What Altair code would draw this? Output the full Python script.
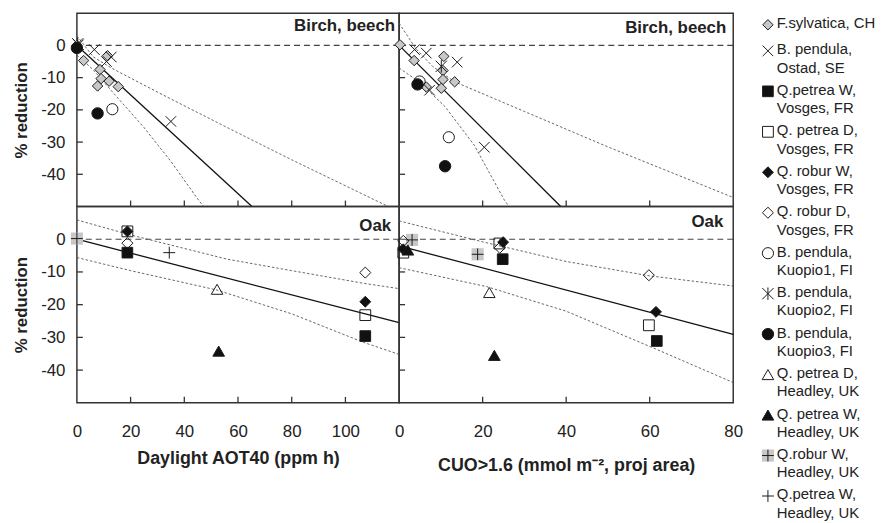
import altair as alt
import pandas as pd

FONT = "Liberation Sans"

# ---------------- series (legend) ----------------
series_keys = ["fsyl", "bp_ostad", "qpW_vos", "qpD_vos", "qrW_vos", "qrD_vos",
               "bp_k1", "bp_k2", "bp_k3", "qpD_hea", "qpW_hea", "qrW_hea", "qpW2_hea"]
series_labels = ["F.sylvatica, CH", "B. pendula,\nOstad, SE", "Q.petrea W,\nVosges, FR",
                 "Q. petrea D,\nVosges, FR", "Q. robur W,\nVosges, FR", "Q. robur D,\nVosges, FR",
                 "B. pendula,\nKuopio1, FI", "B. pendula,\nKuopio2, FI", "B. pendula,\nKuopio3, FI",
                 "Q. petrea D,\nHeadley, UK", "Q. petrea W,\nHeadley, UK", "Q.robur W,\nHeadley, UK",
                 "Q.petrea W,\nHeadley, UK"]
legend_order = list(range(len(series_keys)))

X_PATH = "M-1,-1L1,1M-1,1L1,-1"
AST_PATH = "M-1,-1L1,1M-1,1L1,-1M0,-1.1L0,1.1"
PLUS_PATH = "M-1,0L1,0M0,-1L0,1"
series_shapes = ["diamond", X_PATH, "square", "square", "diamond", "diamond",
                 "circle", AST_PATH, "circle", "triangle-up", "triangle-up", PLUS_PATH, PLUS_PATH]
series_fills = ["#c8c8c8", "transparent", "#111111", "transparent", "#111111", "transparent",
                "transparent", "transparent", "#111111", "transparent", "#111111", "transparent", "transparent"]
series_sizes = [110, 144, 100, 100, 110, 110, 115, 120, 115, 115, 115, 110, 110]
legend_sizes = [75, 100, 90, 80, 75, 75, 80, 95, 95, 100, 100, 100, 100]

# ---------------- Birch/beech vs AOT40 ----------------
bb_aot_series = ["fsyl"] * 8 + ["bp_ostad"] * 5 + ["bp_k2"] + ["bp_k1"] + ["bp_k3"] * 2
bb_aot_x = [0, 2.5, 8.6, 9.0, 7.7, 12.0, 15.4, 11.4,
            0.6, 6.5, 12.8, 11.0, 35.0,
            0.3,
            13.2,
            0.0, 7.7]
bb_aot_y = [0, -4.7, -7.5, -10.3, -12.6, -11.1, -12.8, -3.2,
            0.2, -1.3, -3.6, -5.0, -23.6,
            0.5,
            -19.8,
            -0.8, -21.1]
bb_aot_fit_x = [0, 65.2]
bb_aot_fit_y = [0, -50]
bb_aot_up_x = [0, 6, 13, 30, 56, 80, 111, 116]
bb_aot_up_y = [3, -3.5, -7.1, -14.5, -25.5, -35.5, -48, -50]
bb_aot_lo_x = [0, 6, 13, 25, 35, 45.3, 47.2]
bb_aot_lo_y = [-3, -7.5, -14.2, -25.5, -36, -48, -50]

# ---------------- Birch/beech vs CUO ----------------
bb_cuo_series = ["fsyl"] * 8 + ["bp_ostad"] * 5 + ["bp_k2"] + ["bp_k1"] * 2 + ["bp_k3"] * 2
bb_cuo_x = [0.2, 3.6, 10.7, 10.5, 10.5, 13.3, 6.5, 10.1,
            3.7, 6.5, 13.9, 7.3, 20.4,
            10.1,
            4.9, 11.9,
            4.4, 11.0]
bb_cuo_y = [0.2, -4.7, -3.4, -7.8, -10.6, -11.3, -12.9, -13.3,
            -1.3, -2.4, -5.2, -13.9, -31.6,
            -6.5,
            -11.2, -28.5,
            -12.1, -37.5]
bb_cuo_fit_x = [0, 38.7]
bb_cuo_fit_y = [0, -50]
bb_cuo_up_x = [0, 4, 8, 13.3, 30, 50, 80]
bb_cuo_up_y = [6.9, -1, -6.5, -11.3, -20.5, -31.5, -47.2]
bb_cuo_lo_x = [0, 5, 11, 18, 25.2, 26.3]
bb_cuo_lo_y = [-7, -11.5, -19, -31, -48, -50]

# ---------------- Oak vs AOT40 ----------------
oak_aot_series = ["qrW_hea", "qpD_vos", "qpD_vos", "qrW_vos", "qrW_vos", "qrD_vos", "qrD_vos",
                  "qpW_vos", "qpW_vos", "qpW2_hea", "qpD_hea", "qpW_hea"]
oak_aot_x = [0, 18.8, 107.4, 18.8, 107.4, 18.8, 107.4, 18.8, 107.4, 34.4, 52.2, 52.8]
oak_aot_y = [0.2, 2.4, -23.2, 2.4, -19.1, -1.2, -10.2, -4.1, -29.6, -4.1, -15.3, -34.2]
oak_aot_fit_x = [0, 120]
oak_aot_fit_y = [0, -25.5]
oak_aot_up_x = [0, 20, 56, 80, 107, 120]
oak_aot_up_y = [5.9, 1.3, -6.1, -9.6, -13.5, -15.1]
oak_aot_lo_x = [0, 20, 52, 80, 107, 120]
oak_aot_lo_y = [-5.6, -9.6, -15.5, -22.8, -31.6, -35.2]

# ---------------- Oak vs CUO ----------------
oak_cuo_series = ["qrD_vos", "qrD_vos", "qrD_vos", "qrW_hea", "qrW_hea", "qpD_vos", "qpD_vos", "qpD_vos",
                  "qrW_vos", "qrW_vos", "qrW_vos", "qpW_hea", "qpW_hea", "qpW_vos", "qpW_vos", "qpD_hea"]
oak_cuo_x = [1.0, 24.1, 59.8, 3.1, 18.8, 1.0, 24.0, 59.8, 1.0, 24.9, 61.5, 2.1, 22.8, 24.8, 61.7, 21.6]
oak_cuo_y = [-0.5, -2.6, -11.0, -0.2, -4.6, -4.1, -1.3, -26.3, -3.1, -0.9, -22.2, -3.3, -35.5, -6.1, -31.1, -16.3]
oak_cuo_fit_x = [0, 80]
oak_cuo_fit_y = [-2.0, -29.1]
oak_cuo_up_x = [0, 20, 40, 60, 80]
oak_cuo_up_y = [5.6, -0.8, -6.8, -11.2, -14.3]
oak_cuo_lo_x = [0, 21, 40, 61, 80]
oak_cuo_lo_y = [-8.7, -14.5, -22, -33.3, -43.8]

# ---------------- axes / text ----------------
y_domain = [-50, 10]
y_labels = [0, -10, -20, -30, -40]
y_ticks = [-40, -30, -20, -10]
aot_domain = [0, 120]
aot_labels = [0, 20, 40, 60, 80, 100]
aot_ticks = [20, 40, 60, 80, 100]
cuo_domain = [0, 80]
cuo_labels = [0, 20, 40, 60, 80]
cuo_ticks = [20, 40, 60]
zero_line = [0]
panel_titles = ["Birch, beech", "Oak"]
y_title = "% reduction"
aot_title = "Daylight AOT40 (ppm h)"
cuo_title = "CUO>1.6 (mmol m\u207b\u00b2, proj area)"

LABEL_EXPR = "'' + datum.value"


def build_panel(series, xs_, ys_, fit, up, lo, xdom, w, h, xaxis, yaxis, title, tx, ty, xticks):
    xsc = alt.Scale(domain=xdom, nice=False, zero=False)
    ysc = alt.Scale(domain=y_domain, nice=False, zero=False)

    def X(f):
        return alt.X(f, type="quantitative", scale=xsc, axis=xaxis)

    def Y(f):
        return alt.Y(f, type="quantitative", scale=ysc, axis=yaxis)

    pts = pd.DataFrame({"s": series, "x": xs_, "y": ys_})
    bands = pd.DataFrame({
        "x": list(up[0]) + list(lo[0]),
        "y": list(up[1]) + list(lo[1]),
        "k": ["up"] * len(up[0]) + ["lo"] * len(lo[0]),
    })
    fitdf = pd.DataFrame({"x": fit[0], "y": fit[1]})

    zero = alt.Chart(pd.DataFrame({"y": zero_line})).mark_rule(
        color="#444444", strokeWidth=1.2, strokeDash=[6, 4]).encode(y=Y("y"))
    band_l = alt.Chart(bands).mark_line(color="#555555", strokeWidth=0.9, strokeDash=[2.5, 2]).encode(
        x=X("x"), y=Y("y"), detail="k:N")
    fit_l = alt.Chart(fitdf).mark_line(color="#111111", strokeWidth=1.3).encode(x=X("x"), y=Y("y"))
    gray = alt.Chart(pts).transform_filter(alt.datum.s == "qrW_hea").mark_point(
        shape="square", filled=True, color="#c8c8c8", size=150, opacity=1, strokeWidth=0).encode(
        x=X("x"), y=Y("y"))
    pmarks = alt.Chart(pts).mark_point(opacity=1, stroke="#1a1a1a", strokeWidth=1).encode(
        x=X("x"), y=Y("y"),
        shape=alt.Shape("s:N", scale=alt.Scale(domain=series_keys, range=series_shapes), legend=None),
        fill=alt.Fill("s:N", scale=alt.Scale(domain=series_keys, range=series_fills), legend=None),
        size=alt.Size("s:N", scale=alt.Scale(domain=series_keys, range=series_sizes), legend=None),
    )
    ytk = alt.Chart(pd.DataFrame({"v": y_ticks})).mark_rule(color="#333333", strokeWidth=1.3).encode(
        y=Y("v"), x=alt.value(0), x2=alt.value(6))
    xtk = alt.Chart(pd.DataFrame({"v": xticks})).mark_rule(color="#333333", strokeWidth=1.3).encode(
        x=X("v"), y=alt.value(h), y2=alt.value(h - 6))
    ttl = alt.Chart(pd.DataFrame({"t": [title]})).mark_text(
        align="right", baseline="middle", font=FONT, fontSize=17, fontWeight="bold", color="#222222").encode(
        text="t:N", x=alt.value(w - tx), y=alt.value(ty))
    return alt.layer(zero, band_l, fit_l, gray, pmarks, ytk, xtk, ttl).properties(width=w, height=h)


yaxis_left = alt.Axis(values=y_labels, labelExpr=LABEL_EXPR, title=y_title, labelPadding=12,
                      titlePadding=10, tickSize=0)
xaxis_aot = alt.Axis(values=aot_labels, labelExpr=LABEL_EXPR, title=aot_title, labelPadding=21,
                     titlePadding=10, titleFontSize=18, labelFlush=False, labelOverlap=False, tickSize=0)
xaxis_cuo = alt.Axis(values=cuo_labels, labelExpr=LABEL_EXPR, title=cuo_title, labelPadding=21,
                     titlePadding=17, titleFontSize=18, labelFlush=False, labelOverlap=False, tickSize=0)

WL, WR, HT, HB = 325, 337, 195, 198

tl = build_panel(bb_aot_series, bb_aot_x, bb_aot_y, (bb_aot_fit_x, bb_aot_fit_y),
                 (bb_aot_up_x, bb_aot_up_y), (bb_aot_lo_x, bb_aot_lo_y), aot_domain, WL, HT,
                 None, yaxis_left, panel_titles[0], 4, 13, aot_ticks)
tr = build_panel(bb_cuo_series, bb_cuo_x, bb_cuo_y, (bb_cuo_fit_x, bb_cuo_fit_y),
                 (bb_cuo_up_x, bb_cuo_up_y), (bb_cuo_lo_x, bb_cuo_lo_y), cuo_domain, WR, HT,
                 None, None, panel_titles[0], 7, 15, cuo_ticks)
bl = build_panel(oak_aot_series, oak_aot_x, oak_aot_y, (oak_aot_fit_x, oak_aot_fit_y),
                 (oak_aot_up_x, oak_aot_up_y), (oak_aot_lo_x, oak_aot_lo_y), aot_domain, WL, HB,
                 xaxis_aot, yaxis_left, panel_titles[1], 8, 20, aot_ticks)
br = build_panel(oak_cuo_series, oak_cuo_x, oak_cuo_y, (oak_cuo_fit_x, oak_cuo_fit_y),
                 (oak_cuo_up_x, oak_cuo_up_y), (oak_cuo_lo_x, oak_cuo_lo_y), cuo_domain, WR, HB,
                 xaxis_cuo, None, panel_titles[1], 10, 16, cuo_ticks)

# ---------------- legend panel ----------------
leg = pd.DataFrame({"s": series_keys, "label": series_labels, "i": legend_order})
ly = alt.Y("i:Q", scale=alt.Scale(domain=[0, 1, 12], range=[11.7, 38, 487], nice=False, zero=False), axis=None)
leg_gray = alt.Chart(leg).transform_filter(alt.datum.s == "qrW_hea").mark_point(
    shape="square", filled=True, color="#c8c8c8", size=150, opacity=1, strokeWidth=0).encode(
    x=alt.value(35), y=ly)
leg_sym = alt.Chart(leg).mark_point(opacity=1, stroke="#1a1a1a", strokeWidth=1).encode(
    x=alt.value(35), y=ly,
    shape=alt.Shape("s:N", scale=alt.Scale(domain=series_keys, range=series_shapes), legend=None),
    fill=alt.Fill("s:N", scale=alt.Scale(domain=series_keys, range=series_fills), legend=None),
    size=alt.Size("s:N", scale=alt.Scale(domain=series_keys, range=legend_sizes), legend=None),
)
leg_txt = alt.Chart(leg).mark_text(align="left", baseline="top", dx=9, dy=-8.5, lineBreak="\n",
                                   lineHeight=18.5, font=FONT, fontSize=15, color="#222222").encode(
    x=alt.value(35), y=ly, text="label:N")
legend = alt.layer(leg_gray, leg_sym, leg_txt).properties(
    width=100, height=HT, view=alt.ViewBackground(stroke="transparent"))

chart = alt.concat(tl, tr, legend, bl, br, columns=3, spacing=0, bounds="flush", align="each").properties(
    padding={"left": 3.5, "top": 2, "right": 0, "bottom": 0}
).configure_view(
    stroke="#333333", strokeWidth=1.5
).configure_axis(
    labelFont=FONT, labelFontSize=17, labelColor="#222222",
    titleFont=FONT, titleFontSize=17, titleFontWeight="bold", titleColor="#222222",
    grid=False, domain=False, ticks=False
)

chart.save("out.html", embed_options={"renderer": "svg", "actions": False})
